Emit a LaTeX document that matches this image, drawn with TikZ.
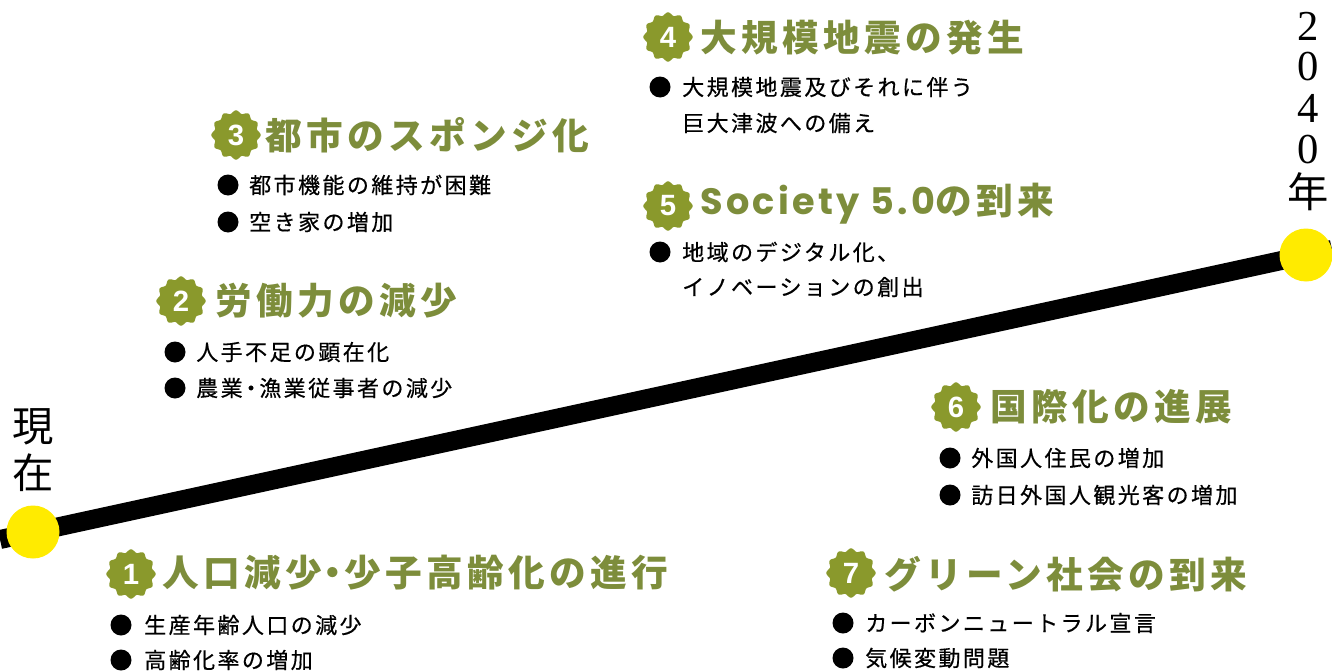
\documentclass[tikz,border=0pt]{standalone}
\usepackage{fontspec}
\newfontfamily\jp{Noto Sans CJK JP}
\newfontfamily\pop{Poppins}
\newfontfamily\serifdig{Liberation Serif}
\newfontfamily\numfont{Liberation Sans}
\definecolor{olivebadge}{HTML}{8A992C}
\definecolor{olivetext}{HTML}{7D8D3B}
\definecolor{dotyellow}{HTML}{FFEB00}
\newcommand\ttlfont{\jp\bfseries\fontsize{27.5}{30}\selectfont\addfontfeatures{LetterSpace=12}}
\newcommand\popttl{\pop\bfseries\fontsize{27.5}{30}\selectfont\addfontfeatures{LetterSpace=9}}
\newcommand\itemfont{\jp\fontsize{16.5}{20}\selectfont\addfontfeatures{LetterSpace=11,FakeBold=0.5}}
\tikzset{
  ttl/.style={anchor=west, inner sep=0pt, text=olivetext, font=\ttlfont},
  itm/.style={anchor=west, inner sep=0pt, text=black, font=\itemfont},
  bul/.style={circle, fill=black, inner sep=0pt, minimum size=21*0.75pt},
  num/.style={inner sep=0pt, text=white, font=\numfont\bfseries\fontsize{22}{22}\selectfont},
  vtxt/.style={inner sep=0pt, text=black, font=\jp\fontsize{31}{31}\selectfont},
  vdig/.style={inner sep=0pt, text=black, font=\serifdig\fontsize{32}{32}\selectfont},
  endpt/.style={circle, fill=dotyellow, inner sep=0pt, minimum size=53*0.75pt},
}
\newcommand\seal[2]{%
  \fill[olivebadge, shift={(#1)}] plot[domain=0:357.5, samples=144, smooth]
    ({(23.2+1.5*cos(12*\x))*cos(\x)}, {(23.2+1.5*cos(12*\x))*sin(\x)}) -- cycle;
  \coordinate (#2) at (#1);}
\begin{document}
\begin{tikzpicture}[x=0.75pt, y=-0.75pt]
\useasboundingbox[fill=white] (0,0) rectangle (1332,671);
% timeline
\coordinate (L) at (0,539.5);
\coordinate (R) at (1332,249.5);
\draw[line width=19*0.75pt] (L) -- (R);
\node[endpt] (now) at (33,532) {};
\node[endpt] (y2040) at (1306,255) {};
% labels at ends
\node[vtxt] (nowA) at (33,427) {現};
\node[vtxt] (nowB) at (33,473) {在};
\node[vdig] (yA) at (1308,26) {2};
\node[vdig] (yB) at (1308,67) {0};
\node[vdig] (yC) at (1308,108) {4};
\node[vdig] (yD) at (1308,150) {0};
\node[vtxt] (yE) at (1308,192) {年};
% badges
\seal{131,574}{b1}\node[num] (n1) at (b1) {1};
\seal{181,301}{b2}\node[num] (n2) at (b2) {2};
\seal{236,135}{b3}\node[num] (n3) at (b3) {3};
\seal{668,37}{b4}\node[num] (n4) at (b4) {4};
\seal{668,206}{b5}\node[num] (n5) at (b5) {5};
\seal{956,407}{b6}\node[num] (n6) at (b6) {6};
\seal{851,573}{b7}\node[num] (n7) at (b7) {7};
% titles
\node[ttl] (t1) at (162,573) {人口減少\hspace{-5.5pt}・\hspace{-5.5pt}少子高齢化の進行};
\node[ttl] (t2) at (215,301) {労働力の減少};
\node[ttl] (t3) at (265,135) {都市のスポンジ化};
\node[ttl] (t4) at (700,38) {大規模地震の発生};
\node[ttl] (t5) at (700,204) {{\popttl Society 5.0}の到来};
\node[ttl] (t6) at (990,407) {国際化の進展};
\node[ttl] (t7) at (884,574) {グリーン社会の到来};
% items 1
\node[bul] (d11) at (121,625) {};
\node[itm] (i11) at (144,625) {生産年齢人口の減少};
\node[bul] (d12) at (121,660) {};
\node[itm] (i12) at (144,660) {高齢化率の増加};
% items 2
\node[bul] (d21) at (175,352) {};
\node[itm] (i21) at (196,352) {人手不足の顕在化};
\node[bul] (d22) at (175,388) {};
\node[itm] (i22) at (196,388) {農業\hspace{-2pt}・\hspace{-2pt}漁業従事者の減少};
% items 3
\node[bul] (d31) at (228,185) {};
\node[itm] (i31) at (249,185) {都市機能の維持が困難};
\node[bul] (d32) at (228,222) {};
\node[itm] (i32) at (249,222) {空き家の増加};
% items 4
\node[bul] (d41) at (660,87) {};
\node[itm] (i41) at (682,87) {大規模地震及びそれに伴う};
\node[itm] (i42) at (682,123) {巨大津波への備え};
% items 5
\node[bul] (d51) at (660,252) {};
\node[itm] (i51) at (682,252) {地域のデジタル化、};
\node[itm] (i52) at (682,287) {イノベーションの創出};
% items 6
\node[bul] (d61) at (950,458) {};
\node[itm] (i61) at (971,458) {外国人住民の増加};
\node[bul] (d62) at (950,495) {};
\node[itm] (i62) at (971,495) {訪日外国人観光客の増加};
% items 7
\node[bul] (d71) at (843,623) {};
\node[itm] (i71) at (865,623) {カーボンニュートラル宣言};
\node[bul] (d72) at (843,658) {};
\node[itm] (i72) at (865,658) {気候変動問題};
\end{tikzpicture}
\end{document}
